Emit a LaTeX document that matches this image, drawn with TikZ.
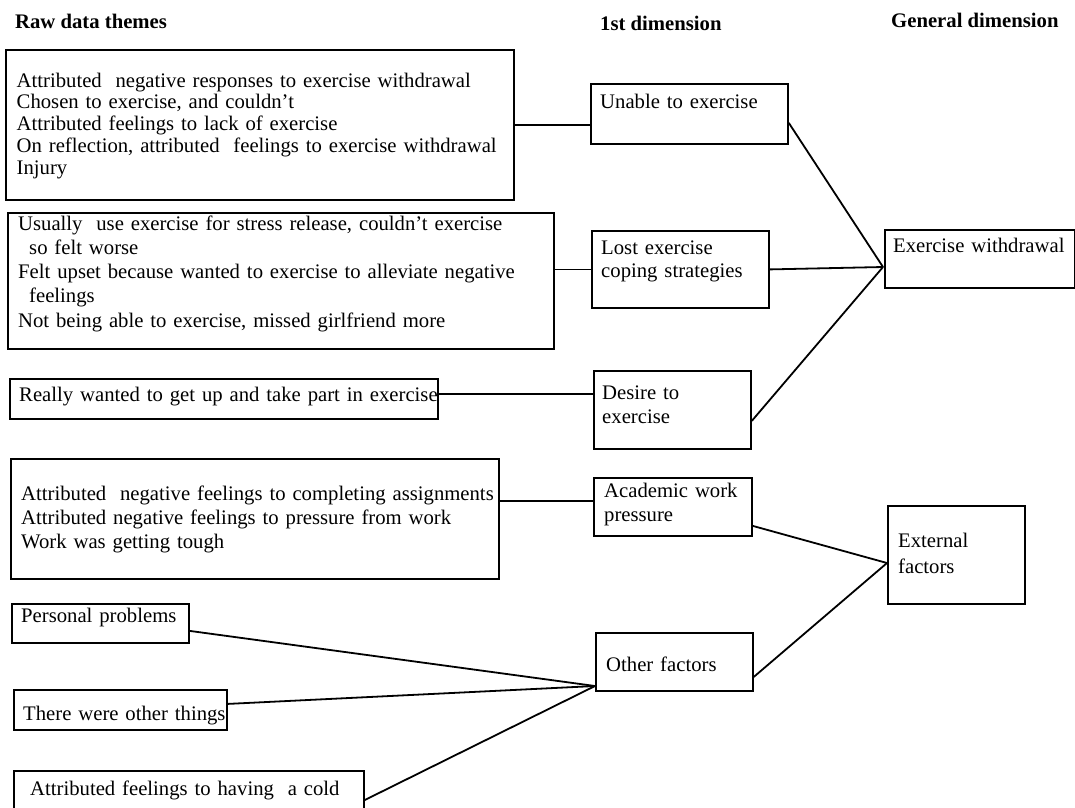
\documentclass[tikz,border=0pt]{standalone}
\usepackage{fontspec}
\setmainfont{Liberation Serif}
\begin{document}
\begin{tikzpicture}[x=1pt,y=-1pt,
  box/.style={draw, line width=1.8pt, inner sep=0pt, anchor=north west},
  txt/.style={anchor=base west, inner sep=0pt, align=left, text width=600pt, font=\fontsize{20.7}{#1}\selectfont},
  txt/.default=21.8,
  hdr/.style={anchor=base west, inner sep=0pt, font=\bfseries\fontsize{20.7}{24}\selectfont},
  conn/.style={line width=1.8pt}]
\useasboundingbox (0,0) rectangle (1075,807);
\clip (0,0) rectangle (1075,807);
% headers
\node[hdr] (h1) at (15,28) {Raw data themes};
\node[hdr] (h2) at (600,30) {1st dimension};
\node[hdr] (h3) at (891,27) {General dimension};
% raw data boxes
\node[box, minimum width=508pt, minimum height=150pt] (b1) at (5,49) {};
\node[box, minimum width=546pt, minimum height=136pt] (b2) at (7,212) {};
\node[box, minimum width=428pt, minimum height=40pt] (b3) at (9,378) {};
\node[box, minimum width=488pt, minimum height=120pt] (b4) at (10,458) {};
\node[box, minimum width=177pt, minimum height=39pt] (b5) at (11,603) {};
\node[box, minimum width=213pt, minimum height=40pt] (b6) at (13,689) {};
\node[box, minimum width=350pt, minimum height=60pt] (b7) at (13,770) {};
% first dimension boxes
\node[box, minimum width=197pt, minimum height=60pt] (un) at (590,83) {};
\node[box, minimum width=177pt, minimum height=77pt] (lost) at (591,230) {};
\node[box, minimum width=157pt, minimum height=78pt] (de) at (593,370) {};
\node[box, minimum width=158pt, minimum height=58pt] (ac) at (593,477) {};
\node[box, minimum width=157pt, minimum height=58pt] (of) at (595,632) {};
% general dimension boxes
\node[box, minimum width=190pt, minimum height=58pt] (ew) at (884,229) {};
\node[box, minimum width=137pt, minimum height=98pt] (ex) at (887,505) {};
% texts
\node[txt] (b1t) at (16.5,87) {Attributed~ negative responses to exercise withdrawal\\
Chosen to exercise, and couldn’t\\
Attributed feelings to lack of exercise\\
On reflection, attributed~ feelings to exercise withdrawal\\
Injury};
\node[txt=24.3] (b2t) at (18,230) {Usually~ use exercise for stress release, couldn’t exercise\\
\hspace*{11pt}so felt worse\\
Felt upset because wanted to exercise to alleviate negative\\
\hspace*{11pt}feelings\\
Not being able to exercise, missed girlfriend more};
\node[txt] (b3t) at (19,401) {Really wanted to get up and take part in exercise};
\node[txt=24] (b4t) at (21,500) {Attributed~ negative feelings to completing assignments\\
Attributed negative feelings to pressure from work\\
Work was getting tough};
\node[txt] (b5t) at (21,622) {Personal problems};
\node[txt] (b6t) at (23,720) {There were other things};
\node[txt] (b7t) at (30,795) {Attributed feelings to having~ a cold};
\node[txt] (unt) at (600,108) {Unable to exercise};
\node[txt=23] (lostt) at (601,254) {Lost exercise\\ coping strategies};
\node[txt] (ewt) at (893,252) {Exercise withdrawal};
\node[txt=24] (det) at (602,399) {Desire to\\ exercise};
\node[txt=24] (act) at (604,497) {Academic work\\ pressure};
\node[txt=26] (ext) at (898,547) {External\\ factors};
\node[txt] (oft) at (606,671) {Other factors};
% convergence points
\coordinate (cew) at (883,267);
\coordinate (cef) at (887,563);
\coordinate (cof) at (595,686);
% connectors
\draw[conn] (b1.east) -- (b1.east -| un.west);
\draw[conn] (lost.west -| b2.east) -- (lost.west);
\draw[conn] ([yshift=5pt]b3.east) -- ([yshift=5pt]b3.east -| de.west);
\draw[conn] ([yshift=6pt]ac.west -| b4.east) -- ([yshift=6pt]ac.west);
\draw[conn] ([yshift=-9pt]un.east) -- (cew);
\draw[conn] (lost.east) -- (cew);
\draw[conn] ([yshift=-11pt]de.east) -- (cew);
\draw[conn] ([yshift=-19pt]ac.east) -- (cef);
\draw[conn] ([yshift=-15pt]of.east) -- (cef);
\draw[conn] ([yshift=-7.5pt]b5.east) -- (cof);
\draw[conn] ([yshift=6pt]b6.east) -- (cof);
\draw[conn] ([yshift=-30pt]b7.north east) -- (cof);
\end{tikzpicture}
\end{document}
